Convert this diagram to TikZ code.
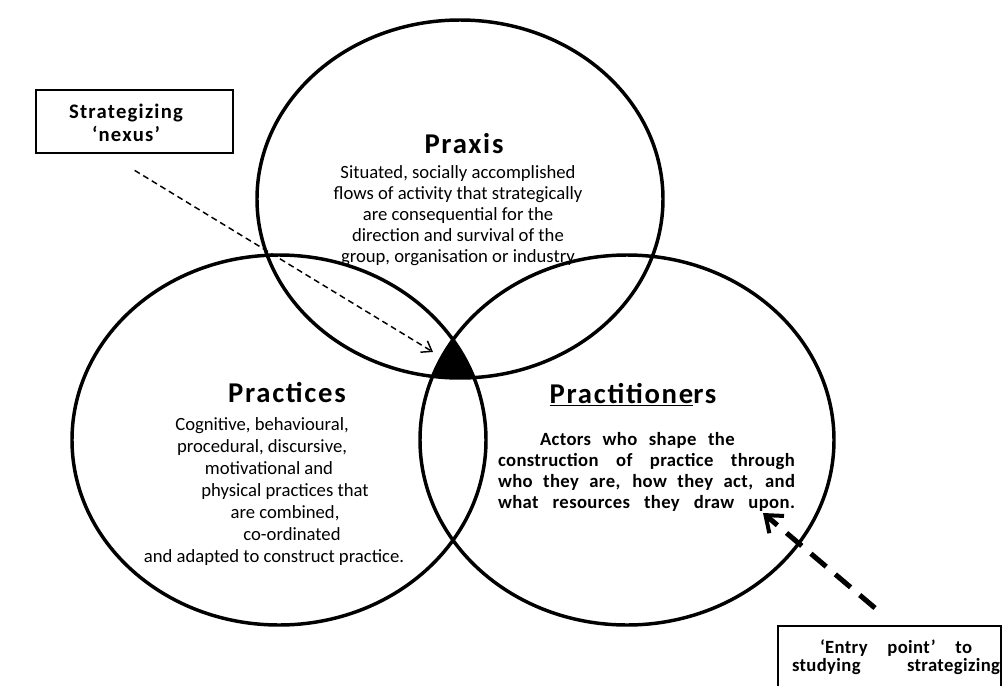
\documentclass[tikz,border=0pt]{standalone}
\usepackage{fontspec}
\setmainfont{Carlito}
\newfontfamily\spacedfont[LetterSpace=6]{Carlito}
\newfontfamily\slightfont[LetterSpace=2]{Carlito}
\usetikzlibrary{arrows.meta,shapes.geometric}

\begin{document}
\begin{tikzpicture}[x=0.75pt,y=-0.75pt,
  ring/.style={draw, ellipse, line width=2.6pt, inner sep=0pt},
  heading/.style={font=\spacedfont\bfseries\fontsize{21.5}{24}\selectfont},
  body/.style={align=center, inner sep=0pt, font=\fontsize{14}{15.75}\selectfont},
  line/.style={inner sep=0pt, anchor=base, font=\fontsize{14}{16}\selectfont},
  boldbody/.style={align=left, inner sep=0pt, font=\slightfont\bfseries\fontsize{14}{15.9}\selectfont},
  callout/.style={draw, line width=1.8pt, inner sep=0pt},
  calltext/.style={align=center, inner sep=0pt, font=\spacedfont\bfseries\fontsize{15.5}{17}\selectfont},
  thinarrow/.style={line width=1.1pt, dash pattern=on 4.5pt off 3pt,
    -{Straight Barb[length=7pt,width=10pt,line width=1.1pt]}},
  thickarrow/.style={line width=3.8pt, dash pattern=on 15pt off 9pt,
    -{Straight Barb[length=11pt,width=17pt,line width=3pt]}}
]
\useasboundingbox (0,0) rectangle (1008,686);
\clip (0,0) rectangle (1008,686);

% shared region of all three circles
\begin{scope}
  \clip (460,199) ellipse [x radius=203, y radius=179];
  \clip (279,440) ellipse [x radius=207, y radius=185];
  \fill (627,440) ellipse [x radius=207, y radius=185];
\end{scope}

% the three circles
\node[ring, minimum width=304.5pt, minimum height=268.5pt] (praxis) at (460,199) {};
\node[ring, minimum width=310.5pt, minimum height=277.5pt] (practices) at (279,440) {};
\node[ring, minimum width=310.5pt, minimum height=277.5pt] (practitioners) at (627,440) {};

% Praxis
\node[heading] (praxisT) at (464,144) {Praxis};
\node[body] (praxisB) at (458,216) {Situated, socially accomplished\\
  flows of activity that strategically\\
  are consequential for the\\
  direction and survival of the\\
  group, organisation or industry};

% Practices
\node[heading] (practicesT) at (287,393) {Practices};
\node[line] (pl1) at (262,430) {Cognitive, behavioural,};
\node[line] (pl2) at (262,452) {procedural, discursive,};
\node[line] (pl3) at (269,474) {motivational and};
\node[line] (pl4) at (285,496) {physical practices that};
\node[line] (pl5) at (285,518) {are combined,};
\node[line] (pl6) at (292,540) {co-ordinated};
\node[line] (pl7) at (274,562) {and adapted to construct practice.};

% Practitioners
\node[heading] (practitionersT) at (633,395) {\underline{Practitione}rs};
\node[boldbody] (practitionersB) at (646.5,472) {%
  \hspace*{31.5pt}\makebox[146pt][s]{Actors who shape the}\\
  \makebox[222.75pt][s]{construction of practice through}\\
  \makebox[222.75pt][s]{who they are, how they act, and}\\
  \makebox[222.75pt][s]{what resources they draw upon.}};

% callout boxes
\node[callout, anchor=north west, minimum width=147.75pt, minimum height=47.25pt] (nexus) at (35,89) {};
\node[calltext] (nexusT) at (126,123) {Strategizing\\ ‘nexus’};

\node[callout, anchor=north west, minimum width=167.25pt, minimum height=60pt] (entry) at (777,625) {};
\node[calltext, font=\slightfont\bfseries\fontsize{14}{13.5}\selectfont] (entryT) at (896,657) {%
  \makebox[114pt][s]{‘Entry point’ to}\\
  \makebox[156pt][s]{studying strategizing}};

% connectors
\coordinate (nexusTip) at (433,352);
\coordinate (entryTail) at (875,608);
\coordinate (entryTip) at (763,513);
\draw[thinarrow] ([yshift=-12pt]nexus.south) -- (nexusTip);
\draw[thickarrow] (entryTail) -- (entryTip);
\end{tikzpicture}
\end{document}
